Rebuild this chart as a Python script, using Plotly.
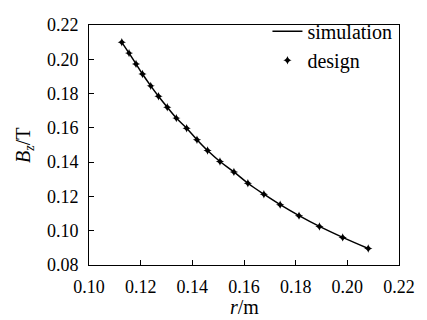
import plotly.graph_objects as go

r_design = [0.1127, 0.1155, 0.1182, 0.1207, 0.1239, 0.1269, 0.1303, 0.1338, 0.1378, 0.1418,
            0.1459, 0.1507, 0.1561, 0.1615, 0.1677, 0.1740, 0.1813, 0.1892, 0.1982, 0.2081]
bz_design = [0.2099, 0.2036, 0.1973, 0.1914, 0.1845, 0.1784, 0.1720, 0.1657, 0.1598, 0.1531,
             0.1468, 0.1404, 0.1343, 0.1277, 0.1213, 0.1152, 0.1088, 0.1025, 0.0961, 0.0896]
r_sim = r_design
bz_sim = bz_design

x_ticks = [0.10, 0.12, 0.14, 0.16, 0.18, 0.20, 0.22]
y_ticks = [0.08, 0.10, 0.12, 0.14, 0.16, 0.18, 0.20, 0.22]

FONT = "Times New Roman"

fig = go.Figure()
fig.add_trace(go.Scatter(x=r_sim, y=bz_sim, mode="lines", name="simulation",
                         line=dict(color="black", width=1.5, shape="spline")))
fig.add_trace(go.Scatter(x=r_design, y=bz_design, mode="markers", name="design",
                         marker=dict(symbol="star-diamond", size=6, color="black")))

axis_common = dict(showline=True, linecolor="black", linewidth=1, mirror=True,
                   ticks="inside", ticklen=5, tickcolor="black", tickwidth=1,
                   showgrid=False, zeroline=False, tickformat=".2f",
                   tickfont=dict(family=FONT, size=18, color="black"))

fig.update_xaxes(range=[0.10, 0.22], tickvals=x_ticks, ticklabelstandoff=5, **axis_common)
fig.update_yaxes(range=[0.08, 0.22], tickvals=y_ticks, ticklabelstandoff=6, **axis_common)

fig.update_layout(
    width=427, height=320,
    margin=dict(l=89, r=17, t=13, b=55),
    paper_bgcolor="white", plot_bgcolor="white",
    font=dict(family=FONT, size=20, color="black"),
    showlegend=True,
    legend=dict(x=0.995, y=1.055, xanchor="right", yanchor="top",
                bgcolor="rgba(0,0,0,0)", itemwidth=30,
                font=dict(family=FONT, size=20, color="black"),
                tracegroupgap=0),
    annotations=[
        dict(text="<i>r</i>/m", xref="paper", yref="paper", x=0.5, y=-0.12,
             xanchor="center", yanchor="top", showarrow=False,
             font=dict(family=FONT, size=20, color="black")),
        dict(text="<i>B</i><sub><i>z</i></sub>/T", xref="paper", yref="paper", x=-0.21, y=0.5,
             xanchor="center", yanchor="middle", showarrow=False, textangle=-90,
             font=dict(family=FONT, size=20, color="black")),
    ],
)

fig.write_html("out.html")
